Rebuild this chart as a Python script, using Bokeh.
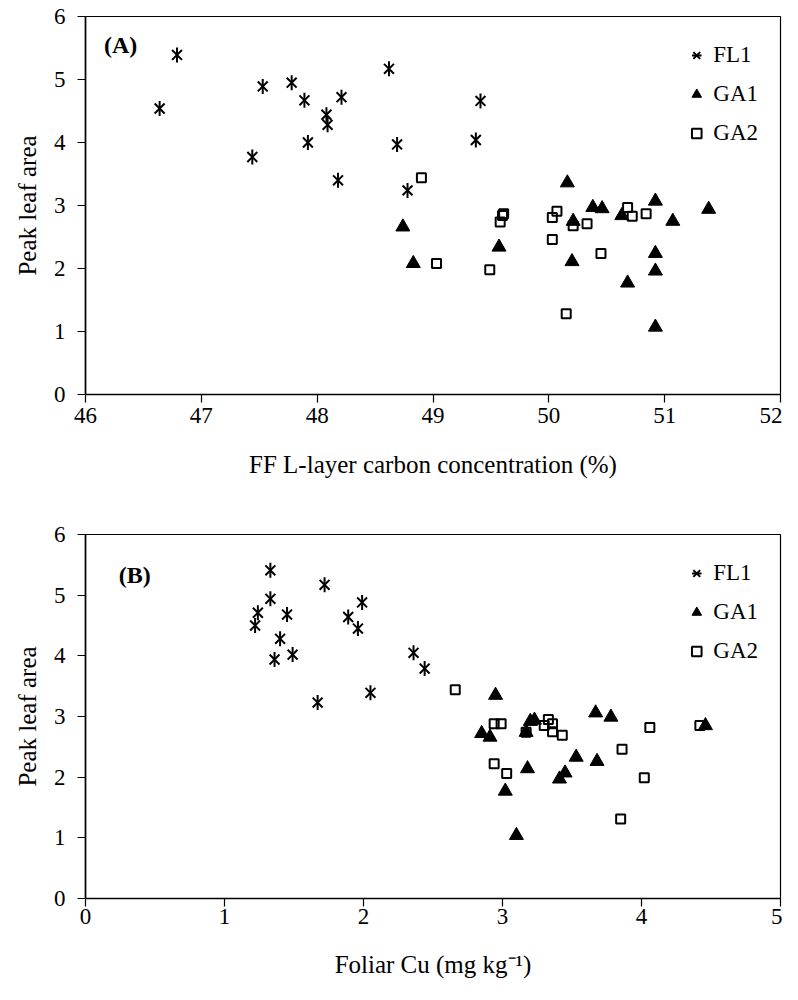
import math
from bokeh.plotting import figure
from bokeh.models import Range1d, FixedTicker, Legend, LegendItem, Label
from bokeh.layouts import column
from bokeh.embed import file_html
from bokeh.resources import INLINE

# ---------------- Panel A: FF L-layer carbon concentration (%) ----------------
a_fl1_x = [46.79, 46.64, 47.53, 47.78, 47.89, 48.21, 48.08, 48.09, 47.44, 47.92, 48.62, 48.69, 48.18, 48.78, 49.37, 49.41]
a_fl1_y = [5.39, 4.54, 4.89, 4.95, 4.67, 4.72, 4.44, 4.28, 3.77, 4.00, 5.17, 3.97, 3.40, 3.24, 4.04, 4.66]

a_ga1_x = [48.74, 48.83, 49.57, 50.16, 50.21, 50.20, 50.38, 50.46, 50.63, 50.68, 50.92, 50.92, 50.92, 50.92, 51.07, 51.38]
a_ga1_y = [2.66, 2.08, 2.34, 3.36, 2.75, 2.11, 2.97, 2.95, 2.84, 1.77, 3.07, 2.24, 1.96, 1.07, 2.75, 2.94]

a_ga2_x = [48.90, 49.03, 49.49, 49.58, 49.60, 49.61, 50.03, 50.07, 50.03, 50.15, 50.21, 50.33, 50.45, 50.68, 50.72, 50.84]
a_ga2_y = [3.44, 2.08, 1.98, 2.74, 2.84, 2.87, 2.81, 2.91, 2.46, 1.28, 2.68, 2.71, 2.24, 2.97, 2.83, 2.87]

a_x_ticks = [46, 47, 48, 49, 50, 51, 52]

# ---------------- Panel B: Foliar Cu (mg kg-1) ----------------
b_fl1_x = [1.33, 1.33, 1.24, 1.22, 1.45, 1.40, 1.36, 1.49, 1.72, 1.67, 1.89, 1.99, 1.96, 2.05, 2.36, 2.44]
b_fl1_y = [5.41, 4.94, 4.71, 4.50, 4.68, 4.28, 3.94, 4.02, 5.17, 3.23, 4.64, 4.88, 4.45, 3.39, 4.05, 3.79]

b_ga1_x = [2.95, 2.85, 2.91, 3.17, 3.23, 3.20, 3.02, 3.10, 3.18, 3.53, 3.45, 3.41, 3.67, 3.78, 3.68, 4.46]
b_ga1_y = [3.35, 2.72, 2.66, 2.74, 2.94, 2.92, 1.77, 1.04, 2.14, 2.33, 2.07, 1.97, 3.06, 2.99, 2.26, 2.85]

b_ga2_x = [2.66, 2.94, 2.99, 2.94, 3.03, 3.17, 3.30, 3.33, 3.36, 3.36, 3.43, 3.86, 3.85, 4.02, 4.06, 4.42]
b_ga2_y = [3.44, 2.88, 2.88, 2.22, 2.06, 2.74, 2.85, 2.95, 2.88, 2.75, 2.69, 2.46, 1.31, 1.99, 2.82, 2.85]

b_x_ticks = [0, 1, 2, 3, 4, 5]

y_ticks = [0, 1, 2, 3, 4, 5, 6]
series_names = ["FL1", "GA1", "GA2"]

FONT = "Liberation Serif"


def make_panel(fx, fy, g1x, g1y, g2x, g2y, x_ticks, xlabel, tag, tag_pos,
               height, b_top, b_bottom, b_left, b_right,
               xlab_standoff, xtitle_standoff):
    p = figure(width=782, height=height, output_backend="svg", toolbar_location=None,
               x_range=Range1d(x_ticks[0], x_ticks[-1]),
               y_range=Range1d(y_ticks[0], y_ticks[-1]),
               min_border_top=b_top, min_border_bottom=b_bottom,
               min_border_left=b_left, min_border_right=b_right)
    p.xgrid.visible = False
    p.ygrid.visible = False
    p.background_fill_color = "white"
    p.border_fill_color = "white"
    p.outline_line_color = "black"
    p.outline_line_width = 1.2

    p.xaxis.ticker = FixedTicker(ticks=x_ticks)
    p.yaxis.ticker = FixedTicker(ticks=y_ticks)
    for ax in (p.xaxis[0], p.yaxis[0]):
        ax.axis_line_color = "black"
        ax.axis_line_width = 1.6
        ax.major_tick_line_color = "black"
        ax.major_tick_line_width = 1.2
        ax.major_tick_in = 0
        ax.major_tick_out = 8
        ax.minor_tick_line_color = None
        ax.major_label_text_font = FONT
        ax.major_label_text_font_size = "23px"
        ax.major_label_text_color = "black"
        ax.axis_label_text_font = FONT
        ax.axis_label_text_font_size = "25px"
        ax.axis_label_text_font_style = "normal"
        ax.axis_label_text_color = "black"
    p.xaxis.axis_label = xlabel
    p.xaxis.major_label_standoff = xlab_standoff
    p.xaxis.axis_label_standoff = xtitle_standoff
    p.yaxis.axis_label = "Peak leaf area"
    p.yaxis.major_label_standoff = 12
    p.yaxis.axis_label_standoff = 10

    # GA2: open squares
    r_g2 = p.scatter(g2x, g2y, marker="square", size=9, line_color="black",
                     line_width=2, fill_alpha=0)
    # GA1: filled triangles
    r_g1 = p.scatter(g1x, g1y, marker="triangle", size=14, line_color="black",
                     line_width=1, fill_color="black")
    # FL1: six-armed star (x + vertical bar)
    r_f1 = p.scatter(fx, fy, marker="x", size=14, line_color="black", line_width=2)
    r_f2 = p.scatter(fx, fy, marker="dash", size=15, angle=math.pi / 2,
                     line_color="black", line_width=2)

    legend = Legend(items=[
        LegendItem(label=series_names[0], renderers=[r_f1, r_f2]),
        LegendItem(label=series_names[1], renderers=[r_g1]),
        LegendItem(label=series_names[2], renderers=[r_g2]),
    ], location="top_right")
    legend.border_line_color = None
    legend.background_fill_alpha = 0
    legend.label_text_font = FONT
    legend.label_text_font_size = "23px"
    legend.label_text_color = "black"
    legend.glyph_width = 24
    legend.glyph_height = 34
    legend.label_height = 34
    legend.label_standoff = 5
    legend.spacing = 5
    legend.padding = 0
    legend.margin = 22
    p.add_layout(legend, "center")

    lab = Label(x=tag_pos[0], y=tag_pos[1], text=tag, text_font=FONT,
                text_font_size="24px", text_font_style="bold",
                text_baseline="middle", text_align="left", text_color="black")
    p.add_layout(lab)
    return p


pa = make_panel(a_fl1_x, a_fl1_y, a_ga1_x, a_ga1_y, a_ga2_x, a_ga2_y,
                a_x_ticks, "FF L-layer carbon concentration (%)", "(A)", (46.16, 5.54),
                height=494, b_top=16, b_bottom=100, b_left=82, b_right=2,
                xlab_standoff=5, xtitle_standoff=25)

pb = make_panel(b_fl1_x, b_fl1_y, b_ga1_x, b_ga1_y, b_ga2_x, b_ga2_y,
                b_x_ticks, "Foliar Cu (mg kg\u207b\u00b9)", "(B)", (0.24, 5.33),
                height=498, b_top=40, b_bottom=94, b_left=85, b_right=2,
                xlab_standoff=2, xtitle_standoff=24)

layout = column(pa, pb, spacing=0)
open("out.html", "w").write(file_html(layout, INLINE))
